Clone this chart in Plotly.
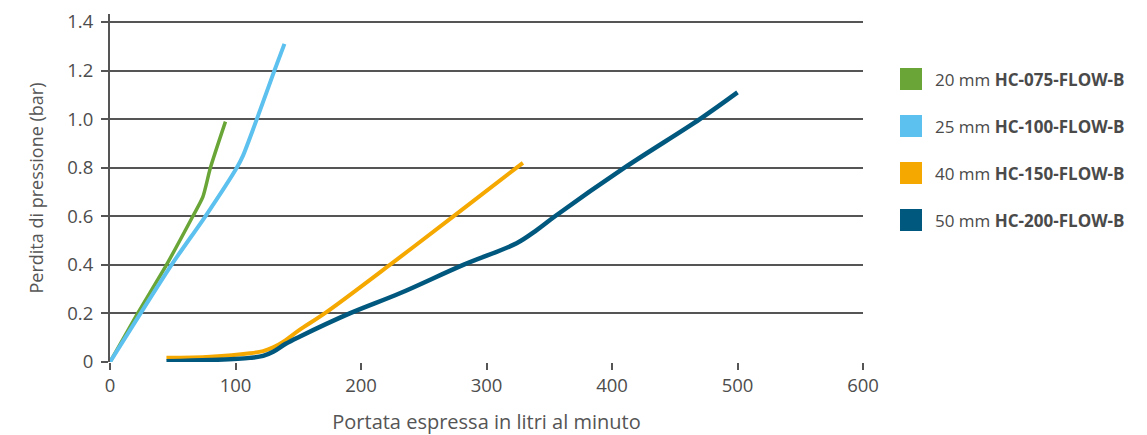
import plotly.graph_objects as go

# Portata (l/min) vs perdita di pressione (bar)
names = ["HC-075-FLOW-B", "HC-100-FLOW-B", "HC-150-FLOW-B", "HC-200-FLOW-B"]
sizes = ["20 mm", "25 mm", "40 mm", "50 mm"]
colors = ["#6AA637", "#5CC1EE", "#F5A800", "#00587F"]

flow_20 = [0, 22, 45, 66, 74, 80, 92]
loss_20 = [0, 0.2, 0.4, 0.6, 0.68, 0.8, 0.99]

flow_25 = [0, 49, 76, 101, 106, 117, 131, 139]
loss_25 = [0, 0.4, 0.6, 0.8, 0.85, 1.0, 1.2, 1.31]

flow_40 = [45, 80, 111.5, 122, 130, 140, 151, 171, 223, 273.6, 329]
loss_40 = [0.017, 0.022, 0.036, 0.045, 0.06, 0.09, 0.132, 0.2, 0.4, 0.6, 0.82]

flow_50 = [45, 80, 111.5, 122, 130, 140, 151, 191, 231, 281.5, 324, 340, 354.6, 410, 470, 500]
loss_50 = [0.003, 0.008, 0.017, 0.025, 0.042, 0.075, 0.104, 0.2, 0.283, 0.4, 0.489, 0.543, 0.6, 0.8, 1.0, 1.11]

x_ticks = [0, 100, 200, 300, 400, 500, 600]
y_ticks = [0, 0.2, 0.4, 0.6, 0.8, 1.0, 1.2, 1.4]
y_labels = ["0", "0.2", "0.4", "0.6", "0.8", "1.0", "1.2", "1.4"]

series = [(flow_20, loss_20), (flow_25, loss_25), (flow_40, loss_40), (flow_50, loss_50)]
widths = [3.5, 4, 4, 4.5]
smooth = [0.6, 0.6, 1.0, 1.0]

fig = go.Figure()
for (x, y), name, size, color, w, s in zip(series, names, sizes, colors, widths, smooth):
    fig.add_trace(go.Scatter(
        x=x, y=y, mode="lines", name=f"{size} {name}",
        line=dict(color=color, width=w, shape="spline", smoothing=s),
        showlegend=False,
    ))

# legenda a quadrati, disegnata a mano a destra del grafico
plot_w, plot_h = 753, 348
for i, (name, size, color) in enumerate(zip(names, sizes, colors)):
    cy = 79 + i * 47
    yc = (362 - cy) / plot_h
    fig.add_shape(
        type="rect", xref="paper", yref="paper",
        x0=(900 - 110) / plot_w, x1=(922 - 110) / plot_w,
        y0=yc - 11 / plot_h, y1=yc + 11 / plot_h,
        fillcolor=color, line=dict(width=0),
    )
    fig.add_annotation(
        xref="paper", yref="paper", x=(933 - 110) / plot_w, y=yc,
        xanchor="left", yanchor="middle", showarrow=False,
        text=f"{size} <b>{name}</b>",
        font=dict(size=17, color="#4a4a4a", family="Open Sans"),
    )

# la pagina ha un margine di 8 px attorno al grafico
tick_font = dict(family="Open Sans", size=18.5, color="#4d4d4d")
fig.update_layout(
    width=1139, height=427,
    margin=dict(l=102, r=284, t=6, b=73),
    plot_bgcolor="white", paper_bgcolor="white",
    font=dict(family="Open Sans", color="#4d4d4d"),
    xaxis=dict(
        range=[0, 600], tickvals=x_ticks, showgrid=False, zeroline=False,
        ticks="outside", ticklen=7, tickwidth=2, tickcolor="#555",
        showline=False, tickfont=tick_font, automargin=False,
        title=dict(text="Portata espressa in litri al minuto",
                   font=dict(family="Open Sans", size=20, color="#555"), standoff=21),
    ),
    yaxis=dict(
        range=[0, 1.433], tickvals=y_ticks, ticktext=y_labels,
        showgrid=True, gridcolor="#555", gridwidth=2, zeroline=False,
        showline=True, linecolor="#555", linewidth=2,
        ticks="outside", ticklen=7, tickwidth=2, tickcolor="#555",
        tickfont=tick_font, automargin=False, ticklabelstandoff=4,
        title=dict(text="Perdita di pressione (bar)",
                   font=dict(family="Open Sans", size=18, color="#555"), standoff=19),
    ),
)

fig.write_html("out.html")
